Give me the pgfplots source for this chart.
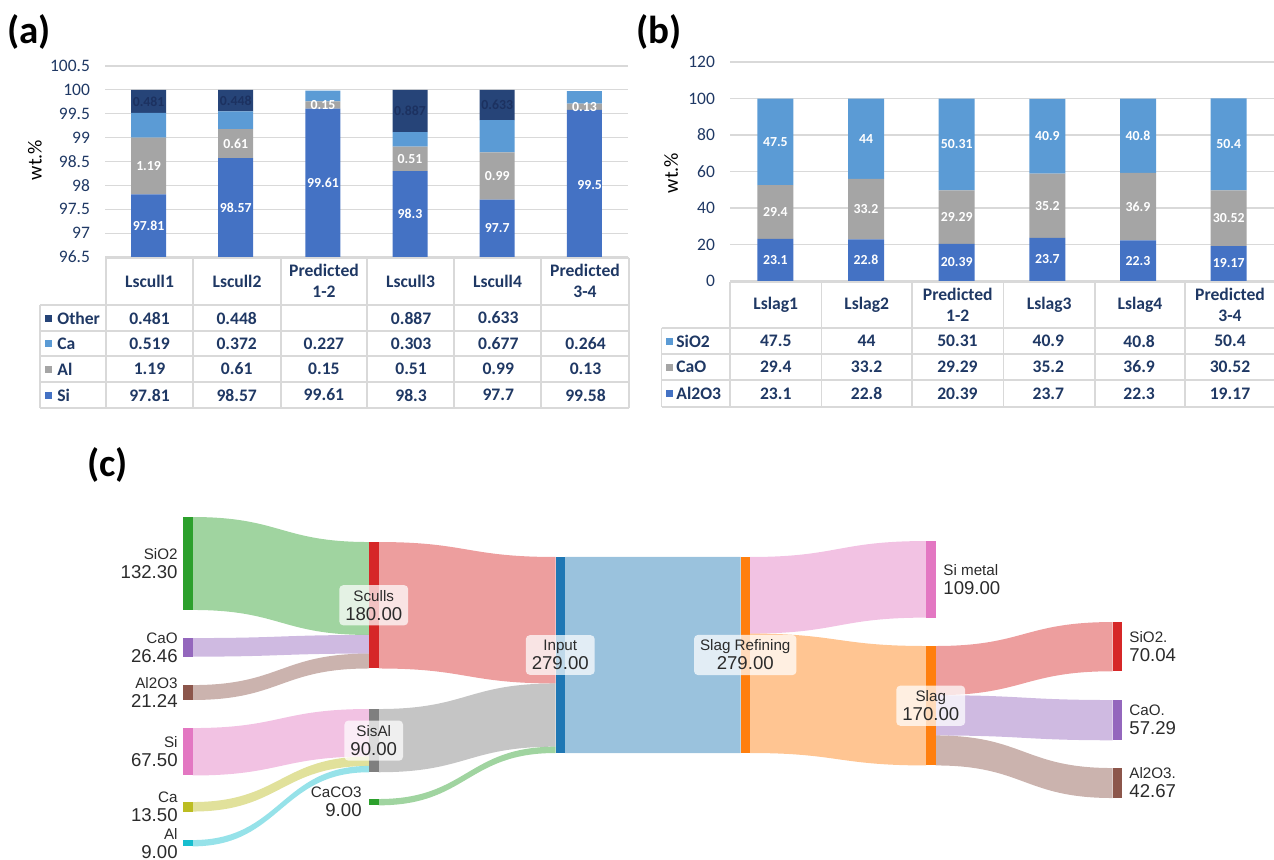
\documentclass[border=0pt]{standalone}
\usepackage{pgfplots}
\pgfplotsset{compat=1.18}
\usepackage{fontspec}
\setmainfont{Carlito}
\newfontfamily\arial{Liberation Sans}
\definecolor{navy}{HTML}{1F3864}
\definecolor{cSi}{HTML}{4472C4}
\definecolor{cAl}{HTML}{A5A5A5}
\definecolor{cCa}{HTML}{5B9BD5}
\definecolor{cOt}{HTML}{264478}
\definecolor{cOtTxt}{HTML}{1C3160}
\definecolor{gridc}{HTML}{D9D9D9}
\definecolor{tblue}{HTML}{1F77B4}
\definecolor{torange}{HTML}{FF7F0E}
\definecolor{tgreen}{HTML}{2CA02C}
\definecolor{tred}{HTML}{D62728}
\definecolor{tpurple}{HTML}{9467BD}
\definecolor{tbrown}{HTML}{8C564B}
\definecolor{tpink}{HTML}{E377C2}
\definecolor{tgray}{HTML}{7F7F7F}
\definecolor{tolive}{HTML}{BCBD22}
\definecolor{tcyan}{HTML}{17BECF}
\definecolor{sktext}{HTML}{2B2B2B}

% link: color, x1, x2, xmid, a1, b1, a2, b2
\newcommand{\link}[8]{\fill[#1,fill opacity=0.45] (axis cs:#2,#5) .. controls (axis cs:#4,#5) and (axis cs:#4,#7) .. (axis cs:#3,#7) -- (axis cs:#3,#8) .. controls (axis cs:#4,#8) and (axis cs:#4,#6) .. (axis cs:#2,#6) -- cycle;}
% node: color, x1, x2, top, bottom
\newcommand{\snode}[5]{\fill[#1] (axis cs:#2,#4) rectangle (axis cs:#3,#5);}
\newcommand{\nm}{\fontsize{7.6}{9.5}\selectfont}
\newcommand{\vl}{\fontsize{9.3}{9.5}\selectfont}
\newcommand{\tb}{\bfseries\fontsize{8.8}{10.5}\selectfont}
\newcommand{\lb}{\bfseries\fontsize{6.9}{8}\selectfont}

\pgfplotsset{
  barax/.style={
    anchor=north west, scale only axis,
    xmin=-0.5, xmax=5.5, xtick=\empty, enlargelimits=false,
    axis line style={draw=none},
    major tick length=0pt,
    ymajorgrids, grid style={gridc, line width=0.6pt},
    /pgf/number format/assume math mode=true,
    yticklabel style={font=\fontsize{8.75}{10}\selectfont, text=navy, xshift=-4pt},
    ylabel style={font=\fontsize{10}{12}\selectfont, text=navy},
    ybar stacked,
  },
  lblax/.style={
    anchor=north west, scale only axis, xmin=-0.5, xmax=5.5, enlargelimits=false,
    hide axis, clip=false,
  },
  lbl/.style={only marks, mark=none, nodes near coords, point meta=explicit symbolic,
    nodes near coords style={anchor=center, font=\lb, text=#1, inner sep=0pt}},
}

\begin{document}
\begin{tikzpicture}
\path[use as bounding box] (0,0) rectangle (637pt,-429.5pt);

% ---------------- (a) ----------------
\begin{axis}[barax, at={(52.5pt,-33pt)}, width=261.5pt, height=95.5pt,
  ymin=96.5, ymax=100.5, ytick={96.5,97,97.5,98,98.5,99,99.5,100,100.5},
  bar width=17.5pt,
  ylabel={wt.\%}, every axis y label/.style={at={(axis description cs:-0.134,0.508)}, rotate=90, anchor=center}]
\addplot[fill=cSi, draw=none] coordinates {(0,97.81)(1,98.57)(2,99.61)(3,98.3)(4,97.7)(5,99.58)};
\addplot[fill=cAl, draw=none] coordinates {(0,1.19)(1,0.61)(2,0.15)(3,0.51)(4,0.99)(5,0.13)};
\addplot[fill=cCa, draw=none] coordinates {(0,0.519)(1,0.372)(2,0.227)(3,0.303)(4,0.677)(5,0.264)};
\addplot[fill=cOt, draw=none] coordinates {(0,0.481)(1,0.448)(2,0)(3,0.887)(4,0.633)(5,0)};
\end{axis}
\begin{axis}[lblax, at={(52.5pt,-33pt)}, width=261.5pt, height=95.5pt, ymin=96.5, ymax=100.5]
\addplot[lbl=white] coordinates {(0,97.155)[97.81] (1,97.535)[98.57] (2,98.055)[99.61] (3,97.4)[98.3] (4,97.1)[97.7] (5.06,98.0)[99.5]};
\addplot[lbl=white] coordinates {(0,98.405)[1.19] (1,98.875)[0.61] (2,99.685)[0.15] (3,98.555)[0.51] (4,98.195)[0.99] (5,99.645)[0.13]};
\addplot[lbl=cOtTxt] coordinates {(0,99.76)[0.481] (1,99.776)[0.448] (3,99.556)[0.887] (4,99.683)[0.633]};
\end{axis}

% ---------------- (b) ----------------
\begin{axis}[barax, at={(365pt,-31pt)}, width=272pt, height=109.5pt,
  ymin=0, ymax=120, ytick={0,20,...,120},
  bar width=18pt,
  ylabel={wt.\%}, every axis y label/.style={at={(axis description cs:-0.108,0.493)}, rotate=90, anchor=center}]
\addplot[fill=cSi, draw=none] coordinates {(0,23.1)(1,22.8)(2,20.39)(3,23.7)(4,22.3)(5,19.17)};
\addplot[fill=cAl, draw=none] coordinates {(0,29.4)(1,33.2)(2,29.29)(3,35.2)(4,36.9)(5,30.52)};
\addplot[fill=cCa, draw=none] coordinates {(0,47.5)(1,44)(2,50.31)(3,40.9)(4,40.8)(5,50.4)};
\end{axis}
\begin{axis}[lblax, at={(365pt,-31pt)}, width=272pt, height=109.5pt, ymin=0, ymax=120]
\addplot[lbl=white] coordinates {(0,11.55)[23.1] (1,11.4)[22.8] (2,10.2)[20.39] (3,11.85)[23.7] (4,11.15)[22.3] (5,9.59)[19.17]};
\addplot[lbl=white] coordinates {(0,37.8)[29.4] (1,39.4)[33.2] (2,35.04)[29.29] (3,41.3)[35.2] (4,40.75)[36.9] (5,34.43)[30.52]};
\addplot[lbl=white] coordinates {(0,76.25)[47.5] (1,78)[44] (2,74.84)[50.31] (3,79.35)[40.9] (4,79.6)[40.8] (5,74.89)[50.4]};
\end{axis}

% ---------------- tables and panel letters (pixel units) ----------------
\begin{scope}[x=0.5pt,y=-0.5pt]
\node[anchor=west, inner sep=0pt, font=\bfseries\fontsize{19.5}{20}\selectfont] at (7,32) {(a)};
\node[anchor=west, inner sep=0pt, font=\bfseries\fontsize{19.5}{20}\selectfont] at (636,32) {(b)};
\node[anchor=west, inner sep=0pt, font=\bfseries\fontsize{19.5}{20}\selectfont] at (87,465) {(c)};
% table (a)
\begin{scope}[draw=gridc, line width=0.6pt]
\draw (106,258) -- (629,258);
\foreach \yy in {305,331,356,382,408} \draw (40,\yy) -- (629,\yy);
\draw (40,305) -- (40,408);
\foreach \xx in {106,193,281,367,454,541,629} \draw (\xx,258) -- (\xx,408);
\end{scope}
\begin{scope}[every node/.style={font=\tb, text=navy, align=center, inner sep=0pt}]
\node at (149.5,281) {Lscull1};
\node at (237,281) {Lscull2};
\node at (324,281) {Predicted\\1-2};
\node at (410.5,281) {Lscull3};
\node at (497.5,281) {Lscull4};
\node at (585,281) {Predicted\\3-4};
\foreach \lab/\yy in {Other/318, Ca/343.5, Al/369, Si/395} {\node[anchor=west] at (57,\yy) {\lab};}
\foreach \v [count=\i from 0] in {0.481,0.448,,0.887,0.633,} {\node at (149.5+87.2*\i,318) {\v};}
\foreach \v [count=\i from 0] in {0.519,0.372,0.227,0.303,0.677,0.264} {\node at (149.5+87.2*\i,343.5) {\v};}
\foreach \v [count=\i from 0] in {1.19,0.61,0.15,0.51,0.99,0.13} {\node at (149.5+87.2*\i,369) {\v};}
\foreach \v [count=\i from 0] in {97.81,98.57,99.61,98.3,97.7,99.58} {\node at (149.5+87.2*\i,395) {\v};}
\end{scope}
\fill[cOt] (45,314.5) rectangle (52,321.5);
\fill[cCa] (45,340) rectangle (52,347);
\fill[cAl] (45,365.5) rectangle (52,372.5);
\fill[cSi] (45,391.5) rectangle (52,398.5);
% table (b)
\begin{scope}[draw=gridc, line width=0.6pt]
\draw (730,282) -- (1275,282);
\foreach \yy in {328,354,380,407} \draw (661.5,\yy) -- (1275,\yy);
\draw (661.5,328) -- (661.5,407);
\foreach \xx in {730,821.5,912,1003.5,1095,1185,1274.5} \draw (\xx,282) -- (\xx,407);
\end{scope}
\begin{scope}[every node/.style={font=\tb, text=navy, align=center, inner sep=0pt}]
\node at (775.75,305) {Lslag1};
\node at (866.75,305) {Lslag2};
\node at (957.75,305) {Predicted\\1-2};
\node at (1049.25,305) {Lslag3};
\node at (1140,305) {Lslag4};
\node at (1230,305) {Predicted\\3-4};
\foreach \lab/\yy in {SiO2/341, CaO/367, Al2O3/393.5} {\node[anchor=west] at (676,\yy) {\lab};}
\foreach \v [count=\i from 0] in {47.5,44,50.31,40.9,40.8,50.4} {\node at (775.75+90.85*\i,341) {\v};}
\foreach \v [count=\i from 0] in {29.4,33.2,29.29,35.2,36.9,30.52} {\node at (775.75+90.85*\i,367) {\v};}
\foreach \v [count=\i from 0] in {23.1,22.8,20.39,23.7,22.3,19.17} {\node at (775.75+90.85*\i,393.5) {\v};}
\end{scope}
\fill[cCa] (666,337.5) rectangle (673,344.5);
\fill[cAl] (666,363.5) rectangle (673,370.5);
\fill[cSi] (666,390) rectangle (673,397);
\end{scope}

% ---------------- (c) Sankey ----------------
\begin{axis}[at={(0pt,-220pt)}, anchor=north west, scale only axis, width=637pt, height=209.5pt,
  xmin=0, xmax=1274, ymin=0, ymax=596.4, y dir=reverse, hide axis, clip=false]
% links
\link{tgreen}{192.5}{369}{280.75}{109.6}{241.9}{145.2}{277.5}
\link{tpurple}{192.5}{369}{280.75}{281.9}{308.36}{277.5}{303.96}
\link{tbrown}{192.5}{369}{280.75}{348.8}{370.04}{303.96}{325.2}
\link{tpink}{192.5}{369}{280.75}{410.0}{477.5}{382.9}{450.4}
\link{tolive}{192.5}{369}{280.75}{515.3}{528.8}{450.4}{463.9}
\link{tcyan}{192.5}{369}{280.75}{569.4}{578.4}{463.9}{472.9}
\link{tred}{378.5}{555.5}{467}{145.2}{325.2}{166.5}{346.5}
\link{tgray}{378.5}{555.5}{467}{382.9}{472.9}{346.5}{436.5}
\link{tgreen}{378.5}{555.5}{467}{511.0}{520.0}{436.5}{445.5}
\link{tblue}{565}{740.5}{652.75}{166.5}{445.5}{166.5}{445.5}
\link{tpink}{750}{926}{838}{166.5}{275.5}{143.8}{252.8}
\link{torange}{750}{926}{838}{275.5}{445.5}{293.2}{463.2}
\link{tred}{935.5}{1112.5}{1024}{293.2}{363.24}{259.1}{329.14}
\link{tpurple}{935.5}{1112.5}{1024}{363.24}{420.53}{370.1}{427.39}
\link{tbrown}{935.5}{1112.5}{1024}{420.53}{463.2}{466.9}{509.57}
% nodes
\snode{tgreen}{183}{192.5}{109.6}{241.9}
\snode{tpurple}{183}{192.5}{281.9}{308.36}
\snode{tbrown}{183}{192.5}{348.8}{370.04}
\snode{tpink}{183}{192.5}{410.0}{477.5}
\snode{tolive}{183}{192.5}{515.3}{528.8}
\snode{tcyan}{183}{192.5}{569.4}{578.4}
\snode{tred}{369}{378.5}{145.2}{325.2}
\snode{tgray}{369}{378.5}{382.9}{472.9}
\snode{tgreen}{369}{378.5}{511.0}{520.0}
\snode{tblue}{555.5}{565}{166.5}{445.5}
\snode{torange}{740.5}{750}{166.5}{445.5}
\snode{tpink}{926}{935.5}{143.8}{252.8}
\snode{torange}{926}{935.5}{293.2}{463.2}
\snode{tred}{1112.5}{1122}{259.1}{329.14}
\snode{tpurple}{1112.5}{1122}{370.1}{427.39}
\snode{tbrown}{1112.5}{1122}{466.9}{509.57}
% labels
\begin{scope}[every node/.style={font=\arial\vl, text=sktext, inner sep=0pt}]
\node[anchor=east, align=right] at (axis cs:178,175.75) {{\nm SiO2}\\132.30};
\node[anchor=east, align=right] at (axis cs:178,295.13) {{\nm CaO}\\26.46};
\node[anchor=east, align=right] at (axis cs:178,359.42) {{\nm Al2O3}\\21.24};
\node[anchor=east, align=right] at (axis cs:178,443.75) {{\nm Si}\\67.50};
\node[anchor=east, align=right] at (axis cs:178,522.05) {{\nm Ca}\\13.50};
\node[anchor=east, align=right] at (axis cs:178,573.9) {{\nm Al}\\9.00};
\node[anchor=east, align=right] at (axis cs:362,515.5) {{\nm CaCO3}\\9.00};
\node[anchor=west, align=left] at (axis cs:943,198.3) {{\nm Si metal}\\109.00};
\node[anchor=west, align=left] at (axis cs:1129,294.12) {{\nm SiO2.}\\70.04};
\node[anchor=west, align=left] at (axis cs:1129,398.75) {{\nm CaO.}\\57.29};
\node[anchor=west, align=left] at (axis cs:1129,488.2) {{\nm Al2O3.}\\42.67};
\end{scope}
\begin{scope}[every node/.style={font=\arial\vl, text=sktext, align=center, fill=white, fill opacity=0.72, text opacity=1, rounded corners=2pt, inner xsep=3pt, inner ysep=2.5pt}]
\node at (axis cs:373.75,235.2) {{\nm Sculls}\\180.00};
\node at (axis cs:373.75,427.9) {{\nm SisAl}\\90.00};
\node at (axis cs:560.25,306) {{\nm Input}\\279.00};
\node at (axis cs:745.25,306) {{\nm Slag Refining}\\279.00};
\node at (axis cs:930.75,378.2) {{\nm Slag}\\170.00};
\end{scope}
\end{axis}
\end{tikzpicture}
\end{document}
